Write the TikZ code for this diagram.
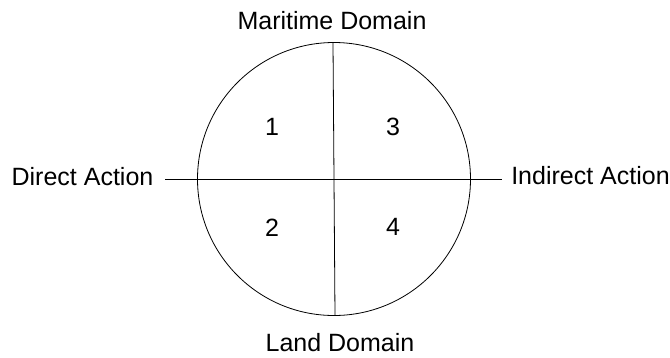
\documentclass[tikz,border=0pt]{standalone}
\usepackage{fontspec}
\setmainfont{Liberation Sans}
\usetikzlibrary{positioning}

\begin{document}
\begin{tikzpicture}[
      x=1pt, y=-1pt,
      font=\fontsize{25}{29}\selectfont,
      label/.style={inner sep=0pt, anchor=center},
      quad/.style={inner sep=0pt, anchor=center},
      ring/.style={draw, circle, line width=0.8pt, minimum size=273pt, inner sep=0pt},
      axis/.style={line width=0.8pt}
    ]
      \useasboundingbox (0,0) rectangle (670,357);
      \node[ring] (dom) at (334,179) {};

      \coordinate (vtop) at (333,42.5);
      \coordinate (vbot) at (335,315.5);
      \coordinate (hleft) at (165,179);
      \coordinate (hright) at (502,179);

      \node[label] (maritime) at (332,21) {Maritime Domain};
      \node[label] (land) at (340,343) {Land Domain};
      \node[label] (direct) at (82.5,176.5) {Direct Action};
      \node[label] (indirect) at (590.5,176) {Indirect Action};

      \node[quad] (q1) at (272,127) {1};
      \node[quad] (q3) at (393,127) {3};
      \node[quad] (q2) at (272,227.5) {2};
      \node[quad] (q4) at (393,227) {4};

      \draw[axis] (vtop) -- (vbot);
      \draw[axis] (hleft) -- (hright);
    \end{tikzpicture}
\end{document}
